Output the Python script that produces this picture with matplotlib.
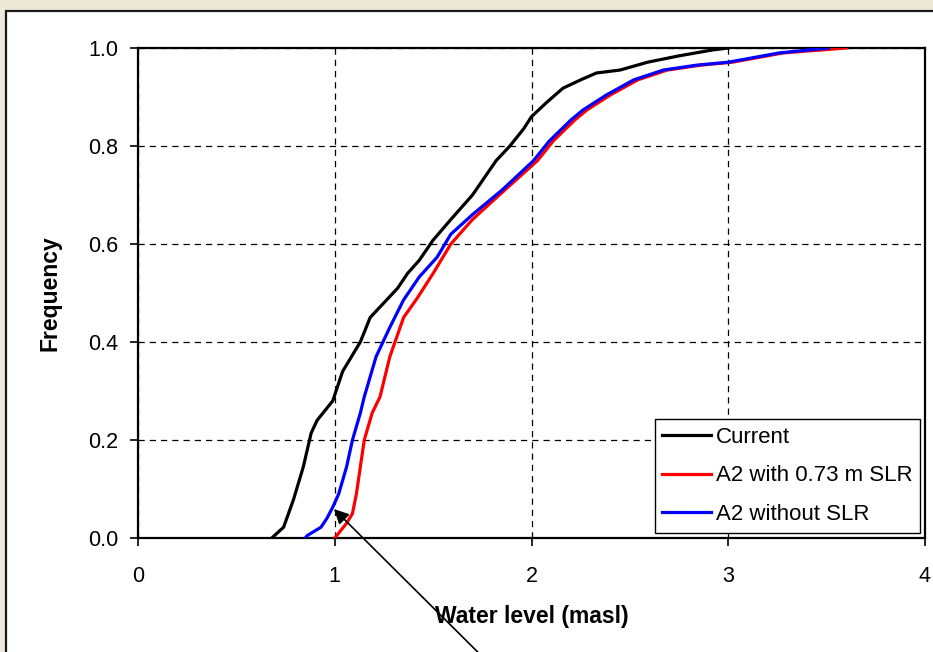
import matplotlib
matplotlib.use('Agg')
import matplotlib.pyplot as plt
from matplotlib.patches import Rectangle

plt.rcParams['font.family'] = ['Liberation Sans', 'DejaVu Sans']

# cumulative frequency curves
current_x = [0.68, 0.74, 0.79, 0.84, 0.88, 0.91, 0.99, 1.04, 1.13, 1.18, 1.25, 1.32, 1.37, 1.43,
             1.50, 1.59, 1.70, 1.82, 1.89, 1.96, 2.00, 2.08, 2.16, 2.25, 2.33, 2.45, 2.59, 2.75,
             2.92, 3.00]
current_y = [0.0, 0.022, 0.078, 0.145, 0.214, 0.24, 0.28, 0.34, 0.40, 0.45, 0.48, 0.51, 0.54, 0.567,
             0.608, 0.65, 0.70, 0.77, 0.80, 0.835, 0.86, 0.89, 0.918, 0.935, 0.949, 0.955, 0.971, 0.984,
             0.996, 1.0]

slr_x = [1.00, 1.06, 1.09, 1.11, 1.13, 1.15, 1.19, 1.23, 1.28, 1.35, 1.42, 1.50, 1.59, 1.70, 1.85,
         2.03, 2.11, 2.22, 2.28, 2.40, 2.54, 2.69, 2.86, 3.02, 3.28, 3.60]
slr_y = [0.0, 0.03, 0.05, 0.09, 0.145, 0.2, 0.255, 0.288, 0.37, 0.45, 0.49, 0.54, 0.60, 0.65, 0.705,
         0.77, 0.81, 0.853, 0.873, 0.904, 0.935, 0.955, 0.965, 0.971, 0.99, 1.0]

noslr_x = [0.85, 0.86, 0.93, 0.96, 0.99, 1.02, 1.06, 1.09, 1.13, 1.15, 1.21, 1.28, 1.35, 1.43, 1.52,
           1.59, 1.70, 1.85, 2.01, 2.09, 2.20, 2.26, 2.38, 2.52, 2.67, 2.84, 3.00, 3.26, 3.51]
noslr_y = [0.0, 0.005, 0.022, 0.04, 0.063, 0.09, 0.145, 0.2, 0.255, 0.288, 0.37, 0.43, 0.486, 0.533,
           0.573, 0.62, 0.66, 0.71, 0.77, 0.81, 0.853, 0.873, 0.904, 0.935, 0.955, 0.965, 0.971, 0.99, 1.0]

labels = ['Current', 'A2 with 0.73 m SLR', 'A2 without SLR']
x_ticks = [0, 1, 2, 3, 4]
y_ticks = [0.0, 0.2, 0.4, 0.6, 0.8, 1.0]

fig = plt.figure(figsize=(9.33, 6.52), dpi=100)
fig.patch.set_facecolor('#ECE9D8')
# white chart area with dark border (Excel style)
fig.patches.append(Rectangle((6 / 933, -0.1), 1.2, 1.1 - 11 / 652, transform=fig.transFigure,
                             facecolor='white', edgecolor='#1a1a1a', linewidth=1.6, zorder=-10))

ax = fig.add_axes([138 / 933, 1 - 538 / 652, 787 / 933, 490 / 652])
ax.set_facecolor('white')

ax.plot(current_x, current_y, color='black', lw=2.3, label=labels[0], zorder=3)
ax.plot(slr_x, slr_y, color='#FF0000', lw=2.3, label=labels[1], zorder=3)
ax.plot(noslr_x, noslr_y, color='#0000FF', lw=2.3, label=labels[2], zorder=4)

ax.set_xlim(0, 4)
ax.set_ylim(0, 1.0)
ax.set_xticks(x_ticks)
ax.set_xticklabels([str(t) for t in x_ticks])
ax.set_yticks(y_ticks)
ax.set_yticklabels(['%.1f' % t for t in y_ticks])
ax.tick_params(axis='both', direction='out', length=6, width=1.2, labelsize=15.5, colors='black')
ax.tick_params(axis='x', pad=14)
ax.tick_params(axis='y', pad=8)

ax.grid(True, color='black', linestyle=(0, (5, 4)), linewidth=0.9)
ax.set_axisbelow(True)
for s in ax.spines.values():
    s.set_linewidth(1.6)
    s.set_color('black')

ax.set_xlabel('Water level (masl)', fontsize=16.5, fontweight='bold', labelpad=13)
ax.set_ylabel('Frequency', fontsize=16.5, fontweight='bold', labelpad=19)

leg = ax.legend(loc='lower right', bbox_to_anchor=(0.9937, 0.0102), borderaxespad=0,
                fancybox=False, framealpha=1, edgecolor='black', fontsize=16,
                handlelength=2.2, handletextpad=0.2, labelspacing=0.8, borderpad=0.35)
leg.get_frame().set_linewidth(1.0)
for line in leg.get_lines():
    line.set_linewidth(2.3)

# arrow pointing at the blue curve near x = 1
ax.annotate('', xy=(0.986, 0.063), xycoords='data',
            xytext=(481 / 933, -0.005), textcoords='figure fraction',
            arrowprops=dict(arrowstyle='-|>', color='black', lw=1.2, mutation_scale=22),
            annotation_clip=False, zorder=6)

fig.savefig('out.png', dpi=100, facecolor=fig.get_facecolor())
